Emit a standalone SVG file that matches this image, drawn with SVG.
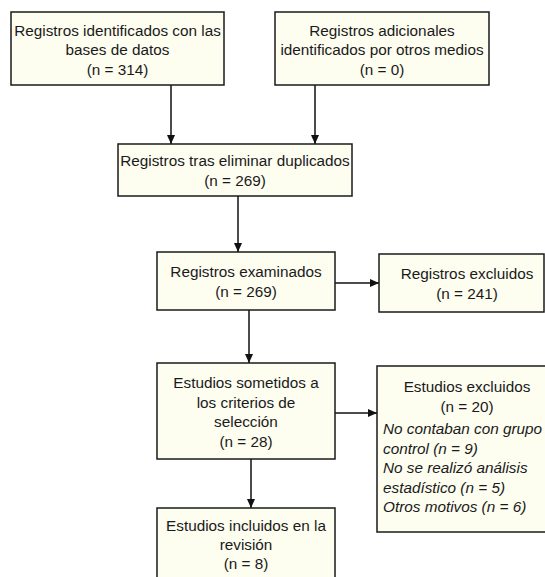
<svg xmlns="http://www.w3.org/2000/svg" width="545" height="577" viewBox="0 0 545 577">
<style>
.box{fill:#fdfdf0;stroke:#1a1a1a;stroke-width:1.5}
.t{font-family:"Liberation Sans",Arial,Helvetica,sans-serif;font-size:15.3px;fill:#1a1a1a;text-anchor:middle}
.i{font-family:"Liberation Sans",Arial,Helvetica,sans-serif;font-size:15.3px;fill:#1a1a1a;font-style:italic}
.c{stroke:#111;stroke-width:1.5;fill:none;marker-end:url(#ah)}
</style>
<defs>
<marker id="ah" markerUnits="userSpaceOnUse" markerWidth="10" markerHeight="10" refX="9" refY="4" orient="auto">
<path d="M0,0 L9,4 L0,8 Z" fill="#111"/>
</marker>
</defs>
<rect width="545" height="577" fill="#ffffff"/>
<g id="connectors">
<line class="c" x1="171" y1="85" x2="171" y2="144"/>
<line class="c" x1="315" y1="85" x2="315" y2="144"/>
<line class="c" x1="238" y1="196" x2="238" y2="252"/>
<line class="c" x1="249" y1="310" x2="249" y2="363"/>
<line class="c" x1="251" y1="459" x2="251" y2="508"/>
<line class="c" x1="335" y1="283" x2="379" y2="283"/>
<line class="c" x1="335" y1="413" x2="377" y2="413"/>
</g>
<g id="n1">
<rect class="box" x="11" y="12" width="213" height="73"/>
<text class="t" x="117.5" y="35.5">Registros identificados con las</text>
<text class="t" x="117.5" y="55">bases de datos</text>
<text class="t" x="117.5" y="74.5">(n = 314)</text>
</g>
<g id="n2">
<rect class="box" x="275" y="12" width="214" height="73"/>
<text class="t" x="382" y="35.5">Registros adicionales</text>
<text class="t" x="382" y="55">identificados por otros medios</text>
<text class="t" x="382" y="74.5">(n = 0)</text>
</g>
<g id="n3">
<rect class="box" x="118" y="144" width="234" height="52"/>
<text class="t" x="235" y="166">Registros tras eliminar duplicados</text>
<text class="t" x="235" y="185.5">(n = 269)</text>
</g>
<g id="n4">
<rect class="box" x="157" y="252" width="178" height="58"/>
<text class="t" x="246" y="277">Registros examinados</text>
<text class="t" x="246" y="296.5">(n = 269)</text>
</g>
<g id="n5">
<rect class="box" x="379" y="254" width="165" height="58"/>
<text class="t" x="467" y="279">Registros excluidos</text>
<text class="t" x="467" y="298.5">(n = 241)</text>
</g>
<g id="n6">
<rect class="box" x="157" y="363" width="178" height="96"/>
<text class="t" x="246" y="388">Estudios sometidos a</text>
<text class="t" x="246" y="407.5">los criterios de</text>
<text class="t" x="246" y="427">selección</text>
<text class="t" x="246" y="446.5">(n = 28)</text>
</g>
<g id="n7">
<rect class="box" x="377" y="366" width="190" height="166"/>
<text class="t" x="467" y="392">Estudios excluidos</text>
<text class="t" x="467" y="411.5">(n = 20)</text>
<text class="i" x="383" y="434">No contaban con grupo</text>
<text class="i" x="383" y="453.5">control (n = 9)</text>
<text class="i" x="383" y="473">No se realizó análisis</text>
<text class="i" x="383" y="492.5">estadístico (n = 5)</text>
<text class="i" x="383" y="512">Otros motivos (n = 6)</text>
</g>
<g id="n8">
<rect class="box" x="157" y="508" width="178" height="80"/>
<text class="t" x="246" y="531">Estudios incluidos en la</text>
<text class="t" x="246" y="550">revisión</text>
<text class="t" x="246" y="569">(n = 8)</text>
</g>
</svg>
